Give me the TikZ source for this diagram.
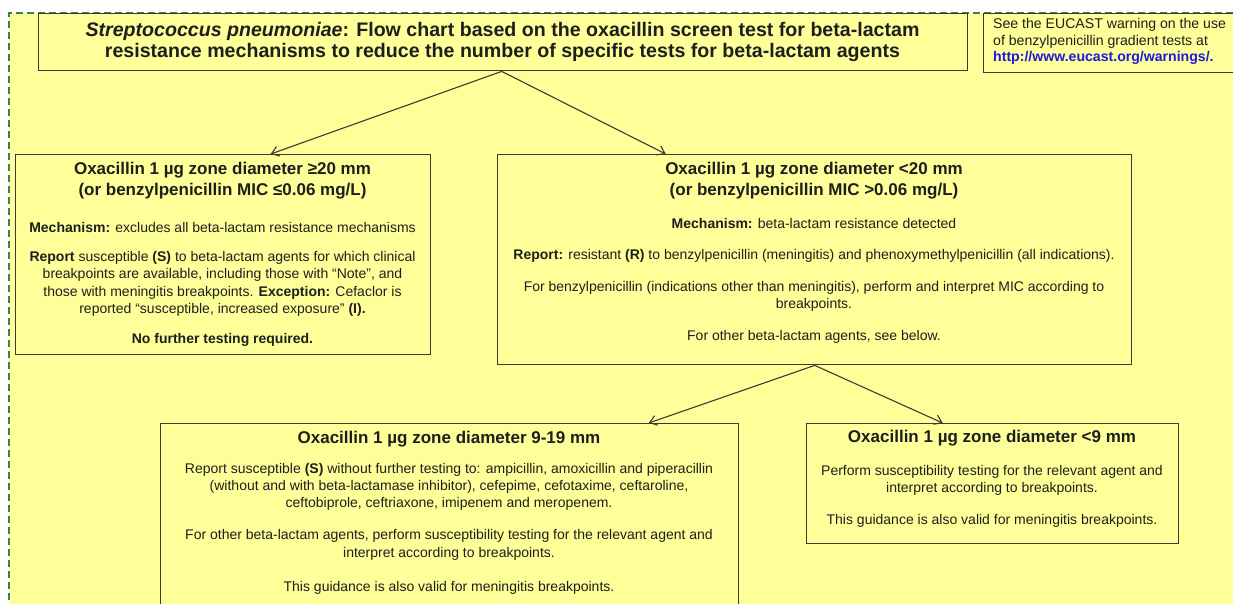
\documentclass[tikz,border=0pt]{standalone}
\usepackage{fontspec}
\setmainfont{Liberation Sans}
\usetikzlibrary{arrows.meta}
\definecolor{bgyellow}{HTML}{FFFF99}
\definecolor{boxline}{HTML}{3A3A32}
\definecolor{txtcol}{HTML}{1E1E1E}
\definecolor{dashgreen}{HTML}{3B7F5A}
\definecolor{linkblue}{HTML}{1A1AE0}
\newcommand\hdfont{\fontsize{17}{21}\selectfont\bfseries}
\newcommand\bodyfont{\fontsize{14}{17.3}\selectfont}
\newcommand\titlefont{\fontsize{19.6}{21}\selectfont\bfseries}
\newcommand\notefont{\fontsize{14.1}{16.5}\selectfont}
\tikzset{
  box/.style={draw=boxline, line width=1.4pt, fill=bgyellow, rectangle, inner sep=0pt, anchor=north west},
  txt/.style={text=txtcol, align=center, inner sep=0pt},
  arr/.style={draw=boxline, line width=1.1pt, -{Straight Barb[length=7pt,width=10pt]}},
  gdash/.style={draw=dashgreen, line width=1.3pt, dash pattern=on 7pt off 4pt}
}
\begin{document}
\begin{tikzpicture}[x=1pt,y=-1pt]
\useasboundingbox (0,0) rectangle (1233,604);
\clip (0,0) rectangle (1233,604);
\fill[bgyellow] (9,13) rectangle (1233,604);
\draw[gdash] (1233,13) -- (9,13) -- (9,604);

% boxes
\node[box, minimum width=929pt, minimum height=57pt] (T) at (38,13) {};
\node[box, minimum width=260pt, minimum height=59pt] (N) at (983,13) {};
\node[box, minimum width=415pt, minimum height=200pt] (L) at (15,154) {};
\node[box, minimum width=634pt, minimum height=210pt] (R) at (497,154) {};
\node[box, minimum width=578pt, minimum height=200pt] (BL) at (160,423) {};
\node[box, minimum width=372pt, minimum height=120pt] (BR) at (806,423) {};

% title
\node[txt, font=\titlefont] (Tt) at (502.5,41.5) {\textit{Streptococcus pneumoniae}: Flow chart based on the oxacillin screen test for beta-lactam\\resistance mechanisms to reduce the number of specific tests for beta-lactam agents};

% note
\node[txt, font=\notefont, align=left, anchor=west] (Nt) at (993,41.5) {See the EUCAST warning on the use\\of benzylpenicillin gradient tests at\\\textcolor{linkblue}{\textbf{http://www.eucast.org/warnings/.}}};

% left box
\node[txt, font=\hdfont] (Lh) at (222.5,180.5) {Oxacillin 1 µg zone diameter ≥20 mm\\(or benzylpenicillin MIC ≤0.06 mg/L)};
\node[txt, font=\bodyfont] (Lm) at (222.5,227) {\textbf{Mechanism:} excludes all beta-lactam resistance mechanisms};
\node[txt, font=\bodyfont] (Lr) at (222.5,284) {\textbf{Report} susceptible \textbf{(S)} to beta-lactam agents for which clinical\\breakpoints are available, including those with “Note”, and\\those with meningitis breakpoints. \textbf{Exception:} Cefaclor is\\reported “susceptible, increased exposure” \textbf{(I).}};
\node[txt, font=\bodyfont\bfseries] (Ln) at (222.5,340) {No further testing required.};

% right box
\node[txt, font=\hdfont] (Rh) at (814,181) {Oxacillin 1 µg zone diameter <20 mm\\(or benzylpenicillin MIC >0.06 mg/L)};
\node[txt, font=\bodyfont] (Rm) at (814,223) {\textbf{Mechanism:} beta-lactam resistance detected};
\node[txt, font=\bodyfont] (Rr) at (814,256) {\textbf{Report:} resistant \textbf{(R)} to benzylpenicillin (meningitis) and phenoxymethylpenicillin (all indications).};
\node[txt, font=\bodyfont] (Rb) at (814,296.5) {For benzylpenicillin (indications other than meningitis), perform and interpret MIC according to\\breakpoints.};
\node[txt, font=\bodyfont] (Ro) at (814,337) {For other beta-lactam agents, see below.};

% bottom left box
\node[txt, font=\hdfont] (BLh) at (449,439) {Oxacillin 1 µg zone diameter 9-19 mm};
\node[txt, font=\bodyfont] (BLa) at (449,487) {Report susceptible \textbf{(S)} without further testing to: ampicillin, amoxicillin and piperacillin\\(without and with beta-lactamase inhibitor), cefepime, cefotaxime, ceftaroline,\\ceftobiprole, ceftriaxone, imipenem and meropenem.};
\node[txt, font=\bodyfont] (BLb) at (449,545) {For other beta-lactam agents, perform susceptibility testing for the relevant agent and\\interpret according to breakpoints.};
\node[txt, font=\bodyfont] (BLc) at (449,588) {This guidance is also valid for meningitis breakpoints.};

% bottom right box
\node[txt, font=\hdfont] (BRh) at (992,438) {Oxacillin 1 µg zone diameter <9 mm};
\node[txt, font=\bodyfont] (BRa) at (992,480.5) {Perform susceptibility testing for the relevant agent and\\interpret according to breakpoints.};
\node[txt, font=\bodyfont] (BRb) at (992,521) {This guidance is also valid for meningitis breakpoints.};

% connectors
\draw[arr] ([xshift=-1.5pt]T.south) -- ([xshift=47.5pt]L.north);
\draw[arr] ([xshift=-1.5pt]T.south) -- ([xshift=-149pt]R.north);
\draw[arr] (R.south) -- ([xshift=199pt]BL.north);
\draw[arr] (R.south) -- ([xshift=-50pt]BR.north);
\end{tikzpicture}
\end{document}
